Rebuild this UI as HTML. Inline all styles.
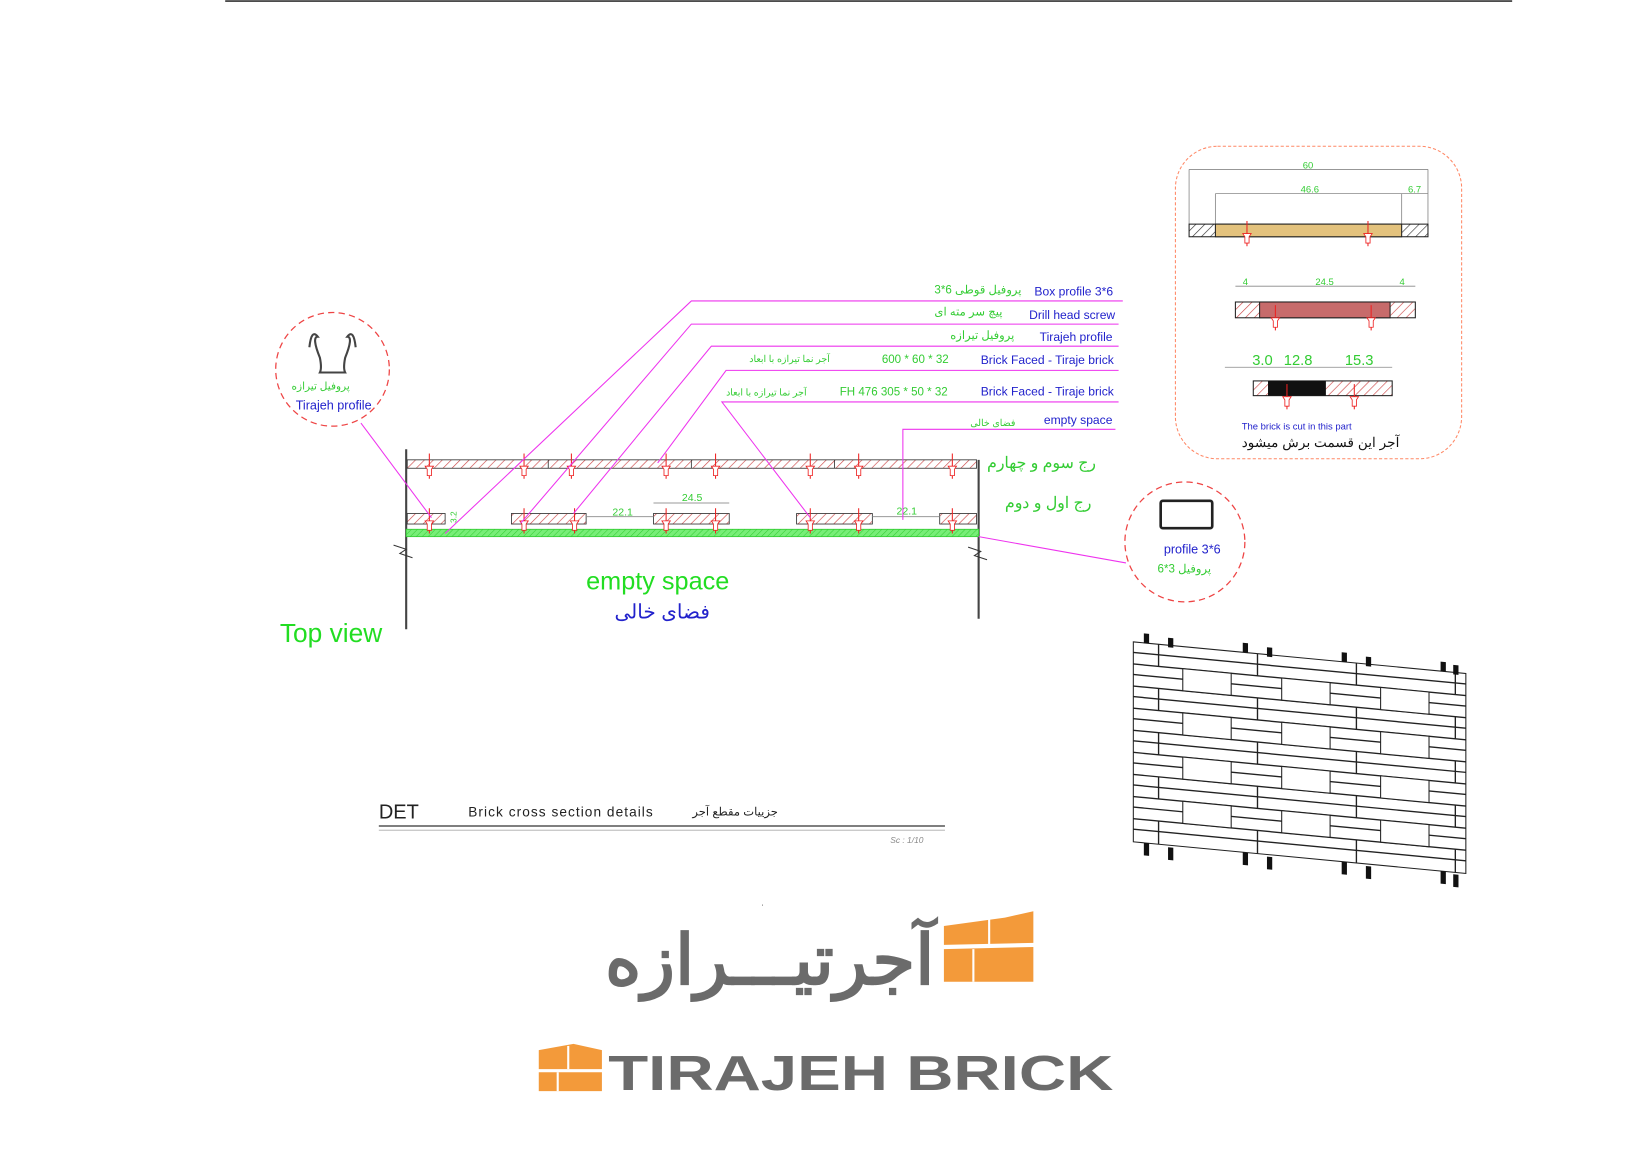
<!DOCTYPE html>
<html><head><meta charset="utf-8"><style>
html,body{margin:0;padding:0;background:#fff;}
svg{display:block;}
text{font-family:"Liberation Sans","Noto Sans CJK SC",sans-serif;}
</style></head><body>
<svg width="1650" height="1168" viewBox="0 0 1568 1110" preserveAspectRatio="none" xmlns="http://www.w3.org/2000/svg">
<defs>
<pattern id="h" width="6" height="6" patternUnits="userSpaceOnUse" patternTransform="rotate(45)"><rect width="6" height="6" fill="#fff"/><line x1="0" y1="0" x2="0" y2="6" stroke="#c44" stroke-width="1.2"/></pattern>
<pattern id="hk" width="6" height="6" patternUnits="userSpaceOnUse" patternTransform="rotate(45)"><rect width="6" height="6" fill="#fff"/><line x1="0" y1="0" x2="0" y2="6" stroke="#333" stroke-width="1.2"/></pattern>
<pattern id="hg" width="4" height="4" patternUnits="userSpaceOnUse" patternTransform="rotate(45)"><rect width="4" height="4" fill="#7e7"/><line x1="0" y1="0" x2="0" y2="4" stroke="#3c3" stroke-width="1"/></pattern>
<g id="scr"><line x1="0" y1="-10" x2="0" y2="14" stroke="#e22" stroke-width="1"/><path d="M-4,2 h8 l-2,3 v6 h-4 v-6 z" fill="#fff" stroke="#e22" stroke-width="0.8"/></g>
</defs>
<rect width="1568" height="1110" fill="#fff"/>
<line x1="214" y1="1" x2="1437" y2="1" stroke="#333" stroke-width="1.5"/>

<!-- section -->
<line x1="386" y1="427" x2="386" y2="598" stroke="#444" stroke-width="2"/>
<line x1="930" y1="437" x2="930" y2="588" stroke="#444" stroke-width="2"/>
<path d="M374,518 l12,4 l-6,4 l12,4" fill="none" stroke="#333"/>
<path d="M920,520 l12,4 l-6,4 l12,4" fill="none" stroke="#333"/>
<rect x="387" y="437" width="541" height="8" fill="url(#h)" stroke="#333" stroke-width="0.8"/>
<g stroke="#333" stroke-width="0.8"><line x1="521" y1="437" x2="521" y2="445"/><line x1="657" y1="437" x2="657" y2="445"/><line x1="793" y1="437" x2="793" y2="445"/></g>
<g fill="url(#h)" stroke="#333" stroke-width="0.8">
<rect x="387" y="488" width="36" height="10"/><rect x="486" y="488" width="71" height="10"/><rect x="621" y="488" width="72" height="10"/><rect x="757" y="488" width="72" height="10"/><rect x="893" y="488" width="35" height="10"/></g>
<rect x="386" y="503" width="544" height="7" fill="url(#hg)" stroke="#3c3" stroke-width="0.8"/>
<g><use href="#scr" x="408" y="441"/><use href="#scr" x="498" y="441"/><use href="#scr" x="543" y="441"/><use href="#scr" x="633" y="441"/><use href="#scr" x="680" y="441"/><use href="#scr" x="770" y="441"/><use href="#scr" x="816" y="441"/><use href="#scr" x="905" y="441"/>
<use href="#scr" x="408" y="493"/><use href="#scr" x="498" y="493"/><use href="#scr" x="546" y="493"/><use href="#scr" x="633" y="493"/><use href="#scr" x="680" y="493"/><use href="#scr" x="770" y="493"/><use href="#scr" x="816" y="493"/><use href="#scr" x="905" y="493"/></g>
<g stroke="#999" stroke-width="1"><line x1="557" y1="491" x2="621" y2="491"/><line x1="829" y1="491" x2="893" y2="491"/><line x1="621" y1="478" x2="693" y2="478"/></g>
<g fill="#3c3" font-size="10"><text x="582" y="490">22.1</text><text x="852" y="489">22.1</text><text x="648" y="476">24.5</text><text x="434" y="497" font-size="8" transform="rotate(-90 434 497)">3.2</text></g>

<!-- leaders -->
<g stroke="#e3e" stroke-width="1" fill="none">
<polyline points="1067,286 657,286 423,507"/>
<polyline points="1063,308 657,308 495,497"/>
<polyline points="1063,329 676,329 545,488"/>
<polyline points="1063,352 690,352 625,440"/>
<polyline points="1063,382 686,382 770,492"/>
<polyline points="1060,408 858,408 858,494"/>
<line x1="343" y1="402" x2="410" y2="492"/>
<line x1="930" y1="510" x2="1070" y2="535"/>
</g>
<g font-size="11.5" fill="#22c">
<text x="983" y="281">Box profile 3*6</text><text x="978" y="303">Drill head screw</text><text x="988" y="324">Tirajeh profile</text>
<text x="932" y="346">Brick Faced - Tiraje brick</text><text x="932" y="376">Brick Faced - Tiraje brick</text><text x="992" y="403">empty space</text></g>
<g font-size="11" fill="#3c3">
<text x="888" y="279">3*6 پروفیل قوطی</text><text x="888" y="300">پیچ سر مته ای</text><text x="903" y="322">پروفیل تیرازه</text>
<text x="838" y="345">600 * 60 * 32</text><text x="712" y="344" font-size="9">آجر نما تیرازه با ابعاد</text>
<text x="798" y="376">FH 476   305 * 50 * 32</text><text x="690" y="376" font-size="9">آجر نما تیرازه با ابعاد</text>
<text x="922" y="405" font-size="9">فضای خالی</text></g>
<text x="938" y="445" font-size="15" fill="#3c3">رج سوم و چهارم</text>
<text x="955" y="483" font-size="15" fill="#3c3">رج اول و دوم</text>
<text x="557" y="560" font-size="24" fill="#2d2">empty space</text>
<text x="584" y="588" font-size="19" fill="#22c">فضای خالی</text>
<text x="266" y="610" font-size="25" fill="#2d2">Top view</text>

<!-- circles -->
<circle cx="316" cy="351" r="54" fill="none" stroke="#e44" stroke-width="1.2" stroke-dasharray="6,4"/>
<path d="M294,330 q2,-18 8,-10 q-6,0 2,20 q2,10 0,14 h24 q-2,-4 0,-14 q8,-20 2,-20 q6,-8 8,10" fill="none" stroke="#444" stroke-width="2"/>
<text x="277" y="370" font-size="10" fill="#3c3">پروفیل تیرازه</text>
<text x="281" y="389" font-size="12" fill="#22c">Tirajeh profile</text>
<circle cx="1126" cy="515" r="57" fill="none" stroke="#e44" stroke-width="1.2" stroke-dasharray="6,4"/>
<rect x="1103" y="476" width="49" height="26" rx="2" fill="none" stroke="#222" stroke-width="2.5"/>
<text x="1106" y="526" font-size="12" fill="#22c">profile 3*6</text>
<text x="1100" y="544" font-size="11" fill="#3c3">6*3 پروفیل</text>

<!-- detail box -->
<rect x="1117" y="139" width="272" height="297" rx="40" fill="none" stroke="#f86" stroke-width="1" stroke-dasharray="3,2"/>
<g stroke="#888" stroke-width="0.8"><line x1="1130" y1="161" x2="1357" y2="161"/><line x1="1155" y1="184" x2="1357" y2="184"/><line x1="1130" y1="161" x2="1130" y2="213"/><line x1="1357" y1="161" x2="1357" y2="213"/><line x1="1155" y1="184" x2="1155" y2="213"/><line x1="1332" y1="184" x2="1332" y2="213"/>
<line x1="1174" y1="272" x2="1345" y2="272"/><line x1="1164" y1="349" x2="1323" y2="349"/></g>
<rect x="1130" y="213" width="227" height="12" fill="url(#hk)" stroke="#222"/>
<rect x="1155" y="213" width="177" height="12" fill="#e3c27d" stroke="#222"/>
<rect x="1174" y="287" width="171" height="15" fill="url(#h)" stroke="#222"/>
<rect x="1197" y="287" width="124" height="15" fill="#c76b6b" stroke="#222"/>
<rect x="1191" y="362" width="132" height="14" fill="url(#h)" stroke="#222"/>
<rect x="1205" y="362" width="55" height="14" fill="#111"/>
<g><use href="#scr" x="1185" y="220"/><use href="#scr" x="1300" y="220"/><use href="#scr" x="1212" y="300"/><use href="#scr" x="1303" y="300"/><use href="#scr" x="1223" y="375"/><use href="#scr" x="1287" y="375"/></g>
<g fill="#3c3" font-size="9"><text x="1238" y="160">60</text><text x="1236" y="183">46.6</text><text x="1338" y="183">6.7</text><text x="1181" y="271">4</text><text x="1250" y="271">24.5</text><text x="1330" y="271">4</text></g>
<g fill="#3c3" font-size="14"><text x="1190" y="347">3.0</text><text x="1220" y="347">12.8</text><text x="1278" y="347">15.3</text></g>
<text x="1180" y="408" font-size="9" fill="#22c">The brick is cut in this part</text>
<text x="1180" y="425" font-size="13" fill="#111">آجر این قسمت برش میشود</text>

<!-- title -->
<text x="360" y="778" font-family="Liberation Serif,serif" font-size="19" fill="#222">DET</text>
<text x="445" y="776" font-family="Liberation Serif,serif" font-size="13" fill="#222" letter-spacing="1">Brick cross section details</text>
<text x="658" y="775" font-size="11" fill="#222">جزییات مقطع آجر</text>
<line x1="360" y1="785" x2="898" y2="785" stroke="#555" stroke-width="1.5"/>
<line x1="360" y1="789" x2="898" y2="789" stroke="#aaa" stroke-width="0.8"/>
<text x="846" y="801" font-size="8" fill="#888" font-style="italic">Sc : 1/10</text>

<!-- wall isometric -->
<g transform="matrix(1,0.095,0,1,1077,610)">
<rect x="0" y="0" width="316" height="190" fill="#fff" stroke="#222" stroke-width="1"/>
<g stroke="#222" stroke-width="1.3">
<line x1="0" y1="10" x2="316" y2="10"/><line x1="0" y1="21" x2="316" y2="21"/><line x1="0" y1="31" x2="316" y2="31"/><line x1="0" y1="42" x2="316" y2="42"/><line x1="0" y1="52" x2="316" y2="52"/><line x1="0" y1="63" x2="316" y2="63"/><line x1="0" y1="73" x2="316" y2="73"/><line x1="0" y1="84" x2="316" y2="84"/><line x1="0" y1="94" x2="316" y2="94"/><line x1="0" y1="105" x2="316" y2="105"/><line x1="0" y1="115" x2="316" y2="115"/><line x1="0" y1="126" x2="316" y2="126"/><line x1="0" y1="136" x2="316" y2="136"/><line x1="0" y1="147" x2="316" y2="147"/><line x1="0" y1="157" x2="316" y2="157"/><line x1="0" y1="168" x2="316" y2="168"/><line x1="0" y1="178" x2="316" y2="178"/>
<line x1="24" y1="0" x2="24" y2="21"/><line x1="118" y1="0" x2="118" y2="21"/><line x1="212" y1="0" x2="212" y2="21"/><line x1="306" y1="0" x2="306" y2="21"/>
<line x1="24" y1="42" x2="24" y2="63"/><line x1="118" y1="42" x2="118" y2="63"/><line x1="212" y1="42" x2="212" y2="63"/><line x1="306" y1="42" x2="306" y2="63"/>
<line x1="24" y1="84" x2="24" y2="105"/><line x1="118" y1="84" x2="118" y2="105"/><line x1="212" y1="84" x2="212" y2="105"/><line x1="306" y1="84" x2="306" y2="105"/>
<line x1="24" y1="126" x2="24" y2="147"/><line x1="118" y1="126" x2="118" y2="147"/><line x1="212" y1="126" x2="212" y2="147"/><line x1="306" y1="126" x2="306" y2="147"/>
<line x1="24" y1="168" x2="24" y2="190"/><line x1="118" y1="168" x2="118" y2="190"/><line x1="212" y1="168" x2="212" y2="190"/><line x1="306" y1="168" x2="306" y2="190"/>
</g>
<g fill="#fff" stroke="#222" stroke-width="1">
<rect x="47" y="21" width="46" height="21"/><rect x="141" y="21" width="46" height="21"/><rect x="235" y="21" width="46" height="21"/>
<rect x="47" y="63" width="46" height="21"/><rect x="141" y="63" width="46" height="21"/><rect x="235" y="63" width="46" height="21"/>
<rect x="47" y="105" width="46" height="21"/><rect x="141" y="105" width="46" height="21"/><rect x="235" y="105" width="46" height="21"/>
<rect x="47" y="147" width="46" height="21"/><rect x="141" y="147" width="46" height="21"/><rect x="235" y="147" width="46" height="21"/>
</g>
<g fill="#111">
<rect x="10" y="-9" width="5" height="9"/><rect x="33" y="-7" width="5" height="9"/><rect x="104" y="-9" width="5" height="9"/><rect x="127" y="-7" width="5" height="9"/><rect x="198" y="-9" width="5" height="9"/><rect x="221" y="-7" width="5" height="9"/><rect x="292" y="-9" width="5" height="9"/><rect x="304" y="-7" width="5" height="9"/>
<rect x="10" y="190" width="5" height="12"/><rect x="33" y="192" width="5" height="12"/><rect x="104" y="190" width="5" height="12"/><rect x="127" y="192" width="5" height="12"/><rect x="198" y="190" width="5" height="12"/><rect x="221" y="192" width="5" height="12"/><rect x="292" y="190" width="5" height="12"/><rect x="304" y="192" width="5" height="12"/>
</g>
</g>

<text x="724" y="864" font-size="6" fill="#333">'</text>
<!-- logo -->
<text x="575" y="935" font-size="66" font-weight="bold" fill="#6b6b6b" font-family="'Noto Sans CJK SC','DejaVu Sans',sans-serif">آجرتیـــرازه</text>
<g fill="#f39a3a">
<path d="M897,880 L955,872 L982,866 L982,896 L897,898 Z"/>
<path d="M897,902 L982,900 L982,933 L897,933 Z"/>
</g>
<g stroke="#fff" stroke-width="2"><line x1="940" y1="870" x2="940" y2="898"/><line x1="925" y1="902" x2="925" y2="933"/></g>
<g fill="#f39a3a">
<path d="M512,998 L545,992 L572,998 L572,1016 L512,1016 Z"/>
<path d="M512,1019 L572,1019 L572,1037 L512,1037 Z"/>
</g>
<g stroke="#fff" stroke-width="2"><line x1="540" y1="994" x2="540" y2="1016"/><line x1="530" y1="1019" x2="530" y2="1037"/></g>
<text x="578" y="1036" font-size="47" font-weight="bold" fill="#6b6b6b" textLength="480" lengthAdjust="spacingAndGlyphs">TIRAJEH BRICK</text>
</svg>
</body></html>
